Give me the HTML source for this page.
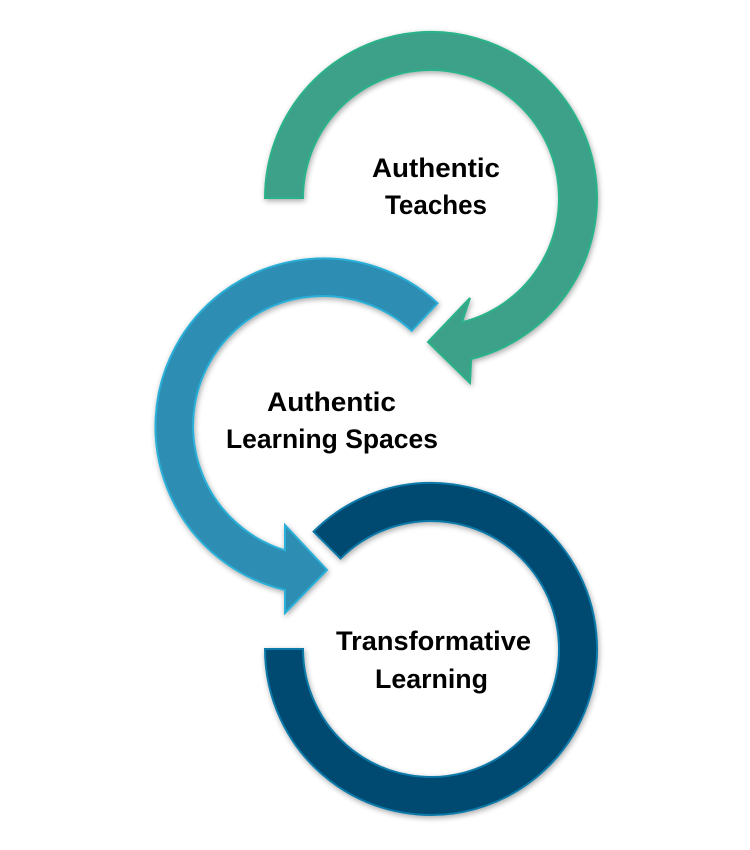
<!DOCTYPE html>
<html><head><meta charset="utf-8"><style>
html,body{margin:0;padding:0;background:#fff;}
svg{display:block;}
text{font-family:"Liberation Sans",sans-serif;font-weight:bold;font-size:27px;fill:#000;}
</style></head><body>
<svg width="750" height="850" viewBox="0 0 750 850" xmlns="http://www.w3.org/2000/svg">
<defs>
<filter id="sh" x="-20%" y="-20%" width="140%" height="140%">
<feGaussianBlur in="SourceAlpha" stdDeviation="3"/>
<feOffset dx="1" dy="2" result="b"/>
<feComponentTransfer><feFuncA type="linear" slope="0.35"/></feComponentTransfer>
<feMerge><feMergeNode/><feMergeNode in="SourceGraphic"/></feMerge>
</filter>
</defs>
<!-- dark ring -->
<g filter="url(#sh)">
<path d="M265,649 A166,166 0 1 0 313.6,531.6 L340.5,558.5 A128,128 0 1 1 303,649 Z" fill="#004a70" stroke="#0a79a8" stroke-width="2"/>
</g>
<!-- blue arrow -->
<g filter="url(#sh)">
<path d="M437.6,303.2 A168,168 0 1 0 285,590 L285,613 L327,570 L285,525 L285,550.3 A130,130 0 1 1 411.7,330.9 Z" fill="#2f8db2" stroke="#2bb0d8" stroke-width="2" stroke-linejoin="miter"/>
</g>
<!-- green arrow -->
<g filter="url(#sh)">
<path d="M265,198 A166,166 0 1 1 471.2,359 L470,383 L428,342 L470,298 L462,322.2 A128,128 0 1 0 303,198 Z" fill="#3da088" stroke="#2bb38a" stroke-width="2"/>
</g>
<text x="372" y="177" textLength="128" lengthAdjust="spacingAndGlyphs">Authentic</text>
<text x="385" y="214" textLength="102" lengthAdjust="spacingAndGlyphs">Teaches</text>
<text x="267" y="411" textLength="129" lengthAdjust="spacingAndGlyphs">Authentic</text>
<text x="226" y="448" textLength="212" lengthAdjust="spacingAndGlyphs">Learning Spaces</text>
<text x="336" y="650" textLength="195" lengthAdjust="spacingAndGlyphs">Transformative</text>
<text x="375" y="688" textLength="113" lengthAdjust="spacingAndGlyphs">Learning</text>
</svg>
</body></html>
